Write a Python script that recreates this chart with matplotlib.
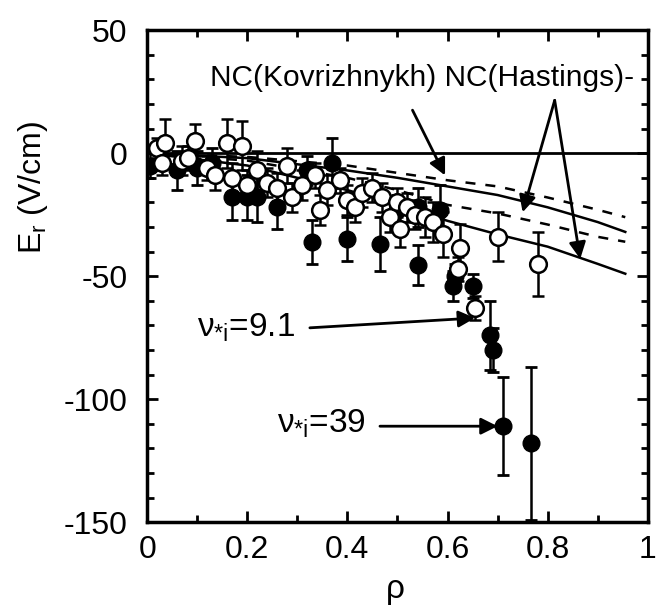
import numpy as np
import matplotlib
matplotlib.use("Agg")
from matplotlib import pyplot as plt
from matplotlib.ticker import MultipleLocator

plt.rcParams['font.family'] = ['Liberation Sans', 'DejaVu Sans']
plt.rcParams['mathtext.fontset'] = 'custom'
plt.rcParams['mathtext.rm'] = 'Liberation Sans'
plt.rcParams['mathtext.it'] = 'Liberation Sans'
plt.rcParams['axes.unicode_minus'] = False

# open circles: rho, Er, error
open_rho = [0.02, 0.036, 0.03, 0.07, 0.082, 0.096, 0.12, 0.135, 0.16, 0.17, 0.19, 0.20,
            0.22, 0.24, 0.26, 0.28, 0.29, 0.31, 0.335, 0.345, 0.36, 0.385, 0.40, 0.415,
            0.43, 0.45, 0.47, 0.485, 0.50, 0.505, 0.52, 0.535, 0.555, 0.57, 0.59, 0.62,
            0.625, 0.655, 0.70, 0.78]
open_er = [2, 4, -4, -3, -2, 5, -6, -9, 4, -10, 3, -13, -7, -12, -14, -5, -18, -13, -9, -23,
           -15, -11, -19, -22, -16, -14, -18, -26, -20, -31, -22, -25, -26, -28, -33, -47,
           -38.6, -63, -34, -45]
open_err = [4, 10, 5, 6, 5, 7, 5, 6, 10, 6, 10, 6, 8, 6, 6, 7, 6, 6, 5, 6, 6, 5, 6, 6,
            6, 6, 6, 6, 6, 7, 6, 6, 8, 8, 9, 5, 10, 5, 10, 13]

# filled circles: rho, Er, error
fill_rho = [0.006, 0.06, 0.10, 0.13, 0.17, 0.20, 0.22, 0.26, 0.32, 0.33, 0.37, 0.40, 0.465,
            0.50, 0.54, 0.54, 0.585, 0.61, 0.615, 0.65, 0.685, 0.69, 0.71, 0.766]
fill_er = [-5, -7, -6, -4, -18, -18, -18, -22, -7, -36, -4, -35, -37, -23, -22, -45.5,
           -23, -54, -50, -54, -74, -80, -111, -118]
fill_err = [5, 8, 7, 6, 9, 9, 10, 9, 6, 9, 10, 9, 11, 6, 8, 8, 10, 6, 5, 5, 14, 9, 20, 31]

# neoclassical curves
nc_rho = [0.0, 0.2, 0.4, 0.5, 0.6, 0.7, 0.8, 0.9, 0.955]
nc_solid_hi = [0, -2, -7, -10, -13.5, -17, -22, -28, -32]
nc_dash_hi = [0, -1.5, -5, -8, -11, -13.5, -18, -23, -26]
nc_dash_lo = [0, -3, -10, -15, -21, -24.5, -29, -34, -36]
nc_solid_lo = [0, -5, -15, -21, -27.5, -33, -38, -45, -49]

fig = plt.figure(figsize=(6.57, 6.05), dpi=100)
ax = fig.add_axes([0.224, 0.137, 0.762, 0.813])

ax.axhline(0, color='black', lw=2)
ax.plot(nc_rho, nc_solid_hi, color='black', lw=1.8)
ax.plot(nc_rho, nc_solid_lo, color='black', lw=1.8)
ax.plot(nc_rho, nc_dash_hi, color='black', lw=1.8, ls=(0, (4, 4)))
ax.plot(nc_rho, nc_dash_lo, color='black', lw=1.8, ls=(0, (4, 4)))

ax.errorbar(fill_rho, fill_er, yerr=fill_err, fmt='o', ms=12, mfc='black', mec='black',
            ecolor='black', elinewidth=1.8, capsize=4.5, capthick=2, zorder=3)
ax.errorbar(open_rho, open_er, yerr=open_err, fmt='o', ms=12, mfc='white', mec='black',
            mew=1.8, ecolor='black', elinewidth=1.8, capsize=4.5, capthick=2, zorder=4)

ax.set_xlim(0, 1)
ax.set_ylim(-150, 50)
ax.xaxis.set_minor_locator(MultipleLocator(0.1))
ax.yaxis.set_major_locator(MultipleLocator(50))
ax.yaxis.set_minor_locator(MultipleLocator(10))
ax.set_xticks([0, 0.2, 0.4, 0.6, 0.8, 1.0])
ax.set_xticklabels(['0', '0.2', '0.4', '0.6', '0.8', '1'])
ax.tick_params(which='both', direction='in', top=True, right=True, width=2, labelsize=23)
ax.tick_params(which='major', length=8)
ax.tick_params(axis='y', which='major', pad=14)
ax.tick_params(axis='x', which='major', pad=9)
ax.tick_params(which='minor', length=5)
for s in ax.spines.values():
    s.set_linewidth(2.5)

ax.set_xlabel('ρ', fontsize=24)
ax.xaxis.set_label_coords(0.495, -0.105)
ax.set_ylabel(r'E$_r$ (V/cm)', fontsize=23)
ax.yaxis.set_label_coords(-0.195, 0.68)

ax.text(0.126, 30.5, 'NC(Kovrizhnykh) NC(Hastings)-', fontsize=21.5, va='center', ha='left')

arr = dict(arrowstyle='-|>', mutation_scale=25, lw=2, color='black', shrinkA=0, shrinkB=0)
ax.annotate('', xy=(0.595, -9), xytext=(0.53, 17.5), arrowprops=arr)
ax.annotate('', xy=(0.75, -24), xytext=(0.814, 21.5), arrowprops=arr)
ax.annotate('', xy=(0.865, -43), xytext=(0.814, 21.5), arrowprops=arr)

ax.text(0.10, -71, r'$\nu_{*i}$=9.1', fontsize=24, va='center', ha='left')
ax.annotate('', xy=(0.655, -67), xytext=(0.325, -71), arrowprops=arr)
ax.text(0.26, -110, r'$\nu_{*i}$=39', fontsize=24, va='center', ha='left')
ax.annotate('', xy=(0.70, -111), xytext=(0.465, -111), arrowprops=arr)

fig.savefig('out.png', dpi=100)
